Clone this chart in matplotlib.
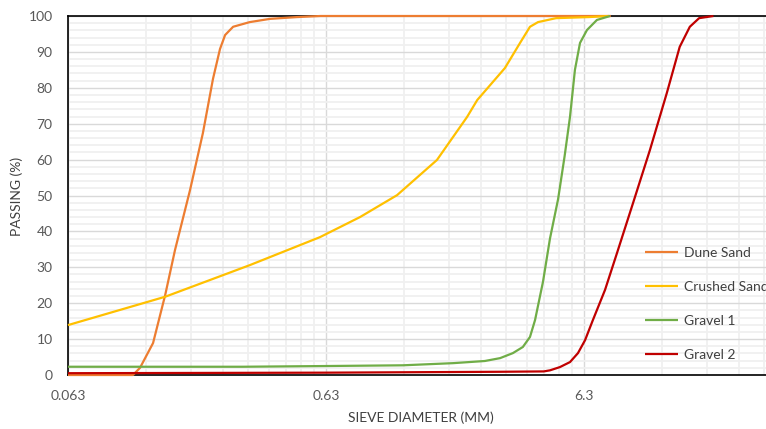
import numpy as np
import matplotlib
matplotlib.use("Agg")
import matplotlib.pyplot as plt
from matplotlib.ticker import FixedLocator, NullFormatter, FixedFormatter, MultipleLocator

plt.rcParams['font.family'] = ['Lato', 'DejaVu Sans']

# -------------------------------
# Data (sieve size mm, % passing)
# -------------------------------
dune_d = [0.063, 0.1125, 0.1198, 0.1346, 0.150, 0.1637, 0.1872, 0.210, 0.2298,
          0.2446, 0.256, 0.275, 0.319, 0.382, 0.486, 0.60, 8.0]
dune_p = [0, 0, 2.0, 8.9, 22.3, 34.8, 51.5, 67.4, 82.5,
          90.8, 94.7, 97.0, 98.3, 99.2, 99.7, 100, 100]

crushed_d = [0.063, 0.150, 0.319, 0.597, 0.854, 1.188, 1.696, 2.22, 2.43,
             3.11, 3.56, 3.89, 4.18, 4.91, 6.58, 7.88]
crushed_p = [13.9, 21.8, 30.6, 38.4, 44.0, 50.1, 59.9, 71.9, 76.6,
             85.5, 92.5, 97.0, 98.3, 99.4, 99.7, 100]

gravel1_d = [0.063, 0.30, 0.63, 1.25, 1.96, 2.60, 2.98, 3.34, 3.65, 3.89, 4.07,
             4.37, 4.65, 5.0, 5.3, 5.56, 5.81, 6.08, 6.47, 7.07, 7.95]
gravel1_p = [2.3, 2.3, 2.5, 2.7, 3.3, 3.9, 4.7, 6.1, 7.8, 10.6, 15.3,
             26.0, 38.0, 49.0, 61.0, 71.9, 85.0, 92.5, 96.1, 98.9, 100]

gravel2_d = [0.063, 0.63, 3.0, 4.4, 4.65, 5.08, 5.56, 5.97, 6.36, 6.82, 7.6,
             8.46, 9.76, 11.35, 13.2, 14.8, 16.2, 17.6, 20.0]
gravel2_p = [0.5, 0.65, 0.9, 1.0, 1.3, 2.2, 3.6, 6.1, 9.7, 15.3, 23.7,
             34.0, 47.9, 62.7, 78.6, 91.4, 97.0, 99.4, 100]

series = [
    ("Dune Sand", dune_d, dune_p, "#ED7D31"),
    ("Crushed Sand", crushed_d, crushed_p, "#FFC000"),
    ("Gravel 1", gravel1_d, gravel1_p, "#70AD47"),
    ("Gravel 2", gravel2_d, gravel2_p, "#C00000"),
]

x_major = [0.063, 0.63, 6.3]
x_labels = ["0.063", "0.63", "6.3"]

# -------------------------------
# Figure
# -------------------------------
W, H = 766, 429
fig = plt.figure(figsize=(W / 100, H / 100), dpi=100)
ax = fig.add_axes([68 / W, (H - 375) / H, 774 / W, 359 / H])

for name, d, p, c in series:
    ax.plot(d, p, color=c, lw=1.6, label=name, zorder=3, clip_on=False,
            solid_capstyle='butt', solid_joinstyle='round')

ax.set_xscale('log')
ax.set_xlim(0.063, 63)
ax.set_ylim(0, 100)

ax.xaxis.set_major_locator(FixedLocator(x_major))
ax.xaxis.set_major_formatter(FixedFormatter(x_labels))
minors = [0.063 * k * 10 ** n for n in range(3) for k in range(2, 10)]
ax.xaxis.set_minor_locator(FixedLocator(minors))
ax.xaxis.set_minor_formatter(NullFormatter())
ax.yaxis.set_major_locator(MultipleLocator(10))
ax.yaxis.set_minor_locator(MultipleLocator(2))

ax.grid(which='major', color='#d9d9d9', lw=1.0, zorder=0)
ax.grid(which='minor', color='#f0f0f0', lw=1.3, zorder=0)
ax.set_axisbelow(True)

ax.tick_params(which='both', length=0, colors='#595959', labelsize=10)
ax.tick_params(axis='x', pad=11)
ax.tick_params(axis='y', pad=11)

for s in ['left', 'bottom', 'top']:
    ax.spines[s].set_color('black')
    ax.spines[s].set_linewidth(1.2)
ax.spines['right'].set_visible(False)

fig.text(421 / W, 1 - 418 / H, "SIEVE DIAMETER (MM)", ha='center', va='center',
         fontsize=10, color='#404040')
fig.text(17 / W, 1 - 196 / H, "PASSING (%)", ha='center', va='center',
         rotation=90, fontsize=10, color='#404040')

ax.legend(loc='center left', bbox_to_anchor=(645 / W, 1 - 304 / H),
          bbox_transform=fig.transFigure, frameon=False, fontsize=10,
          labelspacing=1.57, handlelength=2.4, handletextpad=0.4,
          borderpad=0, borderaxespad=0, labelcolor='#404040')

fig.savefig("out.png", dpi=100)
